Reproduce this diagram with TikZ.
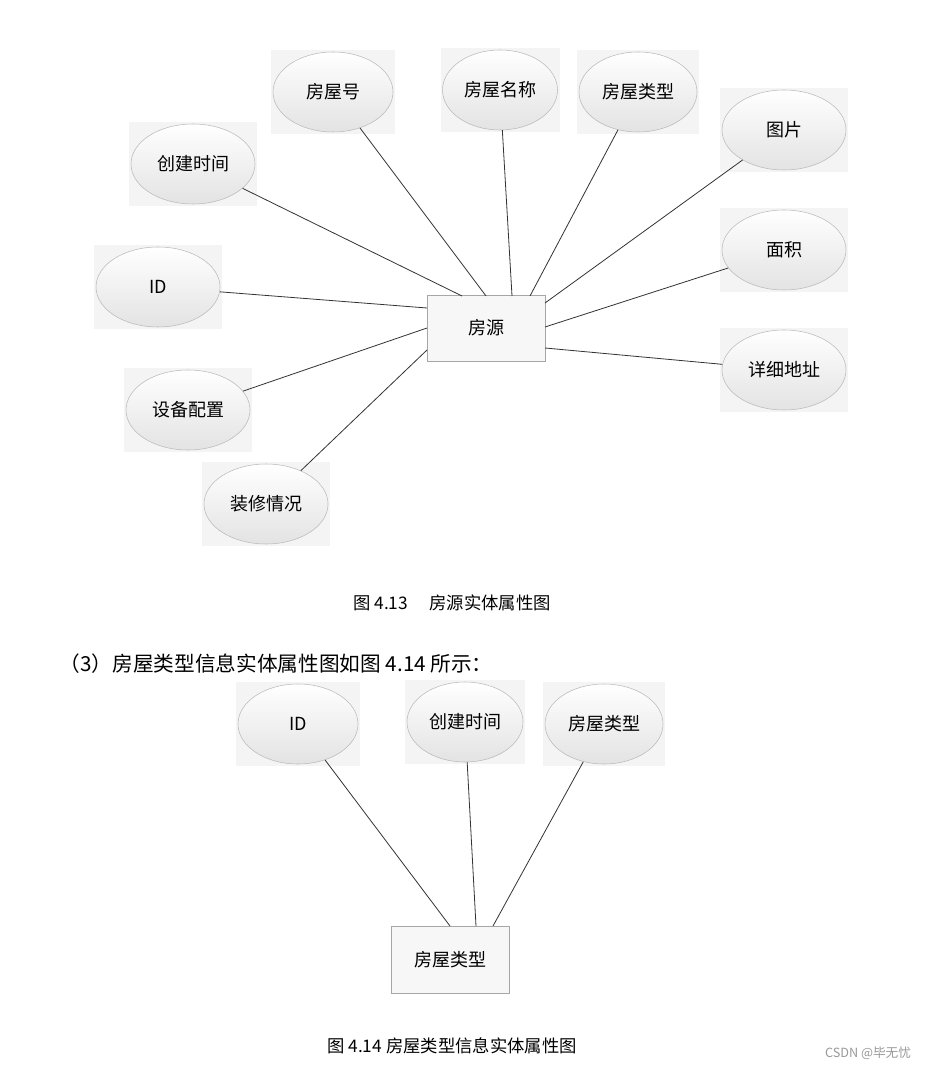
\documentclass[tikz,border=0pt]{standalone}
\usepackage{fontspec}
\setmainfont{Noto Sans CJK SC}
\usetikzlibrary{shapes.geometric}
\tikzset{
attr/.style={ellipse,draw=gray!55,top color=white,bottom color=gray!22,minimum width=#1*0.75pt,minimum height=80*0.75pt,inner sep=0pt,font=\fontsize{13.5}{15}\selectfont},
ent/.style={draw=gray!70,fill=gray!6,minimum width=118*0.75pt,minimum height=66*0.75pt,font=\fontsize{13.5}{15}\selectfont},
ln/.style={draw=black!80,line width=0.6pt},
bg/.style={fill=gray!9}
}
\newcommand{\att}[5]{\fill[bg] (#2-#4/2-2,#3-42) rectangle (#2+#4/2+2,#3+42);\node[attr=#4] (#1) at (#2,#3) {#5};}
\begin{document}
\begin{tikzpicture}[x=0.75pt,y=-0.75pt]
\useasboundingbox (0,0) rectangle (934,1069);
\fill[white] (0,0) rectangle (934,1069);
\att{a1}{333}{92}{120}{房屋号}
\att{a2}{500}{90}{115}{房屋名称}
\att{a3}{638}{92}{118}{房屋类型}
\att{a4}{193}{164}{124}{创建时间}
\att{a5}{784}{130}{124}{图片}
\att{a6}{158}{287}{124}{ID}
\att{a7}{784}{250}{124}{面积}
\att{a8}{188}{410}{124}{设备配置}
\att{a9}{784}{370}{124}{详细地址}
\att{a10}{266}{504}{124}{装修情况}
\node[ent] (e1) at (486,328) {房源};
\draw[ln] (a1) -- (486,296);
\draw[ln] (a2) -- (512,296);
\draw[ln] (a3) -- (530,296);
\draw[ln] (a4) -- (462,296);
\draw[ln] (a5) -- (545,303);
\draw[ln] (a7) -- (545,327);
\draw[ln] (a9) -- (545,348);
\draw[ln] (a6) -- (427,308);
\draw[ln] (a8) -- (427,328);
\draw[ln] (a10) -- (427,350);
\node[font=\fontsize{13}{15}\selectfont] (c1) at (452,603) {图 4.13\quad\ 房源实体属性图};
\node[anchor=west,font=\fontsize{15.5}{17}\selectfont] (p1) at (55,664) {（3）房屋类型信息实体属性图如图 4.14 所示：};
\att{b1}{298}{724}{120}{ID}
\att{b2}{465}{722}{116}{创建时间}
\att{b3}{604}{724}{118}{房屋类型}
\node[ent,minimum height=67*0.75pt] (e2) at (450,960) {房屋类型};
\draw[ln] (b1) -- (450,926);
\draw[ln] (b2) -- (476,926);
\draw[ln] (b3) -- (493,926);
\node[font=\fontsize{13}{15}\selectfont] (c2) at (452,1046) {图 4.14 房屋类型信息实体属性图};
\node[font=\fontsize{9.5}{11}\selectfont,text=gray!80] (w) at (868,1053) {CSDN @毕无忧};
\end{tikzpicture}
\end{document}
